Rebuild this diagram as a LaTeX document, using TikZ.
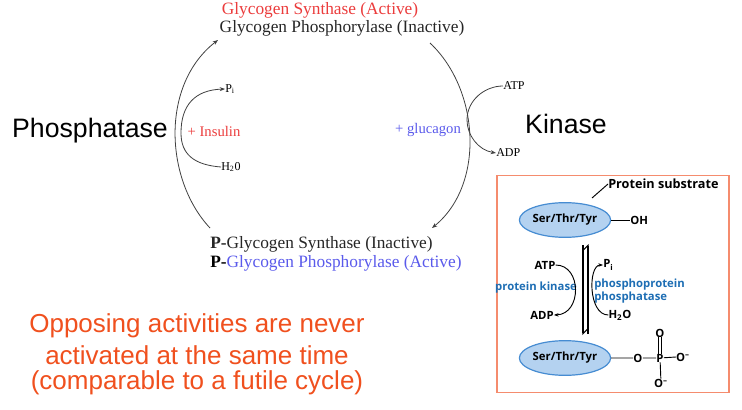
\documentclass[tikz,border=0pt]{standalone}
\usepackage{fontspec}
\setmainfont{Liberation Serif}
\newfontfamily\sans{Liberation Sans}
\newfontfamily\bsans{Open Sans}
\usetikzlibrary{arrows.meta,shapes.geometric}
\definecolor{rd}{RGB}{235,60,60}
\definecolor{bl}{RGB}{90,90,235}
\definecolor{org}{RGB}{240,80,30}
\definecolor{boxc}{RGB}{245,140,110}
\definecolor{ell}{RGB}{180,210,240}
\definecolor{elle}{RGB}{70,140,210}
\definecolor{kb}{RGB}{30,110,180}
\tikzset{
 x=0.75pt,y=-0.75pt,
 lbl/.style={inner sep=0pt,font=\fontsize{13}{15}\selectfont},
 sm/.style={inner sep=0pt,font=\fontsize{9}{10}\selectfont},
 big/.style={inner sep=0pt,font=\sans\fontsize{20}{22}\selectfont},
 orn/.style={inner sep=0pt,text=org,font=\sans\fontsize{19.5}{22}\selectfont},
 arc/.style={draw=black!75,line width=0.6pt,-{Stealth[length=4pt,width=3pt]}},
 bx/.style={inner sep=0pt,font=\bsans\bfseries\fontsize{8.5}{10}\selectfont},
 bxb/.style={bx,text=kb},
 el/.style={ellipse,draw=elle,fill=ell,line width=0.9pt,minimum width=63pt,minimum height=26pt,inner sep=0pt,font=\bsans\bfseries\fontsize{8.5}{10}\selectfont},
}
\begin{document}
\begin{tikzpicture}
\useasboundingbox (0,0) rectangle (742,410);
\node[lbl,text=rd] (t1) at (320,10) {Glycogen Synthase (Active)};
\node[lbl,text=black!85] (t2) at (342,28) {Glycogen Phosphorylase (Inactive)};
\node[lbl,anchor=west,text=black!85] (b1) at (210,244) {\textbf{P-}Glycogen Synthase (Inactive)};
\node[lbl,anchor=west] (b2) at (210,263) {\textbf{P-}\textcolor{bl}{Glycogen Phosphorylase (Active)}};
\coordinate (la) at (210,228);
\coordinate (lb) at (218,40);
\draw[arc] (la) .. controls (165,180) and (160,85) .. (lb);
\coordinate (ra) at (430,43);
\coordinate (rb) at (432,228);
\draw[arc] (ra) .. controls (480,90) and (485,185) .. (rb);
\node[sm,anchor=west] (pi) at (225,89) {P\textsubscript{i}};
\node[sm,anchor=west] (h2o) at (221,167) {H\textsubscript{2}0};
\coordinate (lm) at (181,133);
\draw[arc] (lm) .. controls (181,105) and (195,90) .. (pi.west);
\draw[draw=black!75,line width=0.6pt] (h2o.west) .. controls (195,165) and (181,155) .. (lm);
\node[sm,text=rd,font=\fontsize{11}{12}\selectfont] (ins) at (214,131) {+ Insulin};
\node[sm,text=bl,font=\fontsize{11}{12}\selectfont] (glu) at (428,130) {+ glucagon};
\node[sm,anchor=west] (atp) at (503,86) {ATP};
\node[sm,anchor=west] (adp) at (496,153) {ADP};
\coordinate (rm) at (467,120);
\draw[draw=black!75,line width=0.6pt] (atp.west) .. controls (485,86) and (467,100) .. (rm);
\draw[arc] (rm) .. controls (467,135) and (478,150) .. (adp.west);
\node[big] (ph) at (90,131) {Phosphatase};
\node[big] (ki) at (566,124) {Kinase};
\node[orn] (o1) at (197,326) {Opposing activities are never};
\node[orn] (o2) at (197,355) {activated at the same time};
\node[orn] (o3) at (197,383) {(comparable to a futile cycle)};
% box
\node[draw=boxc,line width=1.2pt,minimum width=174pt,minimum height=163pt,inner sep=0pt] (box) at (613,284) {};
\node[el] (e1) at (565,220) {Ser/Thr/Tyr};
\node[bx,anchor=west] (oh) at (630,220) {OH};
\draw[line width=0.7pt] (e1.east) -- (oh.west);
\node[bx,anchor=west,font=\bsans\bfseries\fontsize{9.5}{11}\selectfont] (ps) at (608,184) {Protein substrate};
\draw[line width=0.7pt] (592,198) -- (ps.west);
\node[el] (e2) at (565,358) {Ser/Thr/Tyr};
\node[bx] (o) at (638,358) {O};
\node[bx] (p) at (660,358) {P};
\node[bx] (om) at (683,357) {O\textsuperscript{–}};
\node[bx] (ot) at (660,333) {O};
\node[bx] (ob) at (661,383) {O\textsuperscript{–}};
\draw[line width=0.7pt] (e2.east) -- (o.west) (o) -- (p) (p) -- (om.west) (p) -- (ob);
\draw[line width=0.7pt,double,double distance=1.5pt] (p) -- (ot);
\coordinate (v1t) at (583,245); \coordinate (v1b) at (583,335);
\coordinate (v2t) at (588,244); \coordinate (v2b) at (588,334);
\draw[line width=0.8pt,-{Straight Barb[left,length=4pt]}] (v1t) -- (v1b);
\draw[line width=0.8pt,-{Straight Barb[left,length=4pt]}] (v2b) -- (v2t);
\node[bx] (atp2) at (545,265) {ATP};
\node[bx] (adp2) at (542,315) {ADP};
\node[bx,anchor=west] (pi2) at (603,265) {P\textsubscript{i}};
\node[bx] (h22) at (620,315) {H\textsubscript{2}O};
\node[bxb] (pk) at (536,288) {protein kinase};
\node[bxb,anchor=west,align=left] (ppp) at (594,291) {phosphoprotein\\phosphatase};
\draw[line width=0.7pt,-{Stealth[length=3.5pt]}] (atp2.east) .. controls (582,265) and (582,314) .. (adp2.east);
\draw[line width=0.7pt,-{Stealth[length=3.5pt]}] (h22.west) .. controls (588,315) and (588,265) .. (pi2.west);
\end{tikzpicture}
\end{document}
